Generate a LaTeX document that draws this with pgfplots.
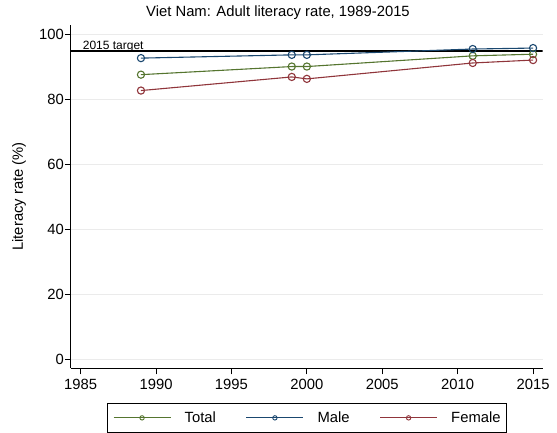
\documentclass[border=0pt]{standalone}
\usepackage{fontspec}
\setmainfont{Liberation Sans}
\usepackage{pgfplots}
\pgfplotsset{compat=1.18}
\definecolor{sgreen}{RGB}{85,117,47}
\definecolor{snavy}{RGB}{26,71,111}
\definecolor{smaroon}{RGB}{144,53,59}
\newcommand{\bigf}{\fontsize{14.8}{17}\selectfont}

\begin{document}
\begin{tikzpicture}
\path[use as bounding box] (0,0) rectangle (557pt,433pt);
\node[anchor=base, font=\bigf] at (278pt,416pt) {Viet Nam: Adult literacy rate, 1989-2015};
\begin{axis}[
    at={(71pt,64.7pt)}, anchor=south west,
    scale only axis, width=471.7pt, height=343.6pt,
    xmin=1984.36, xmax=2015.64, ymin=-2.8, ymax=103.1,
    axis lines*=left,
    axis line style={line width=1pt},
    xtick={1985,1990,...,2015}, ytick={0,20,...,100},
    tick align=outside, major tick length=6pt,
    tick style={black, line width=0.9pt},
    xticklabel style={/pgf/number format/1000 sep={}, yshift=-1.8pt},
    yticklabel style={xshift=2.4pt},
    tick label style={font=\bigf},
    /pgf/number format/assume math mode=true,
    ymajorgrids, grid style={black!8, line width=0.8pt},
    ylabel={Literacy rate (\%)},
    every axis y label/.style={at={(axis description cs:-0.1102,0.5)}, rotate=90, anchor=center, font=\bigf},
    legend columns=3,
    legend style={at={(0.5,-0.102)}, anchor=north, font=\bigf,
        draw=black, line width=0.8pt, inner xsep=5.7pt, inner ysep=8pt,
        nodes={inner sep=0pt},
        /tikz/every odd column/.style={column sep=13.7pt},
        /tikz/every even column/.style={column sep=30pt}},
    legend image code/.code={
        \draw[#1, mark=none, line width=0.9pt] (0pt,0pt) -- (57pt,0pt);
        \draw[#1, line width=0.9pt, mark size=2.2pt] plot coordinates {(28.5pt,0pt)};
    },
    every axis plot/.append style={line width=1.1pt, mark=o, mark size=3.6pt},
]
\addplot[black, mark=none, forget plot] coordinates {(1984.36,95) (2015.64,95)};
\node[anchor=base west, font=\fontsize{12}{14}\selectfont, inner sep=0pt, xshift=2pt, yshift=1.5pt] at (axis cs:1985,95) {2015 target};

\addplot[sgreen] coordinates {(1989,87.7) (1999,90.2) (2000,90.2) (2011,93.5) (2015,94.0)};
\addlegendentry{Total}
\addplot[snavy] coordinates {(1989,92.8) (1999,93.8) (2000,93.8) (2011,95.6) (2015,95.9)};
\addlegendentry{Male}
\addplot[smaroon] coordinates {(1989,82.8) (1999,87.0) (2000,86.4) (2011,91.3) (2015,92.2)};
\addlegendentry{Female}
\end{axis}
\end{tikzpicture}
\end{document}
